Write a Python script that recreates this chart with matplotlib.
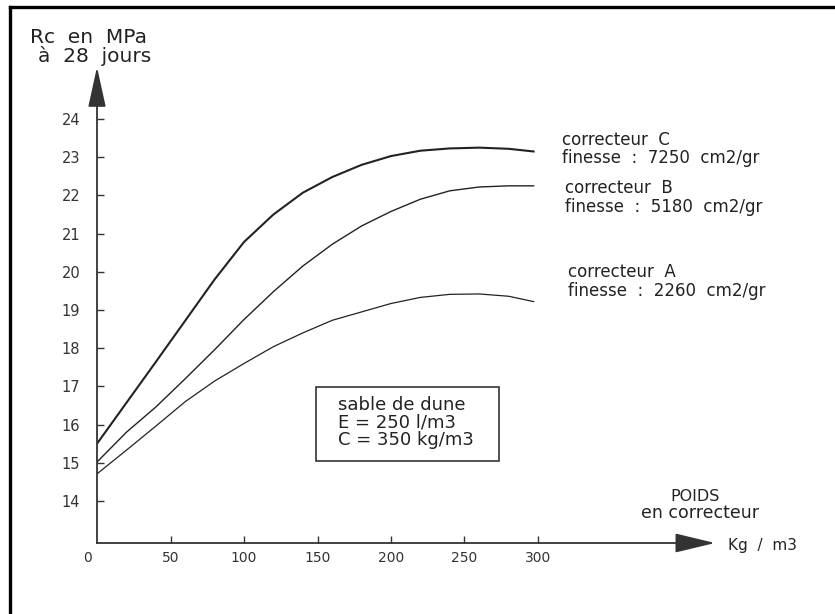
"""Rc a 28 jours vs poids en correcteur
"""
import matplotlib.pyplot as plt
from matplotlib.lines import Line2D
from matplotlib.patches import Rectangle

W, H = 835, 614

# poids en correcteur (kg/m3)
poids = [0, 20, 40, 60, 80, 100, 120, 140, 160, 180, 200, 220, 240, 260, 280, 297]
# Rc en MPa a 28 jours
rc_a = [14.71, 15.33, 15.96, 16.6, 17.14, 17.6, 18.04, 18.4, 18.73, 18.95,
        19.17, 19.33, 19.41, 19.42, 19.36, 19.22]
rc_b = [15.02, 15.8, 16.46, 17.2, 17.96, 18.75, 19.48, 20.15, 20.72, 21.2,
        21.58, 21.9, 22.12, 22.22, 22.25, 22.25]
rc_c = [15.5, 16.57, 17.64, 18.72, 19.8, 20.78, 21.5, 22.07, 22.48, 22.8,
        23.03, 23.17, 23.23, 23.25, 23.22, 23.15]

x_ticks = [50, 100, 150, 200, 250, 300]
y_ticks = list(range(14, 25))

labels = {
    'C': "correcteur  C\nfinesse  :  7250  cm2/gr",
    'B': "correcteur  B\nfinesse  :  5180  cm2/gr",
    'A': "correcteur  A\nfinesse  :  2260  cm2/gr",
}
note = "sable de dune\nE = 250 l/m3\nC = 350 kg/m3"

ink = '#222222'
plt.rcParams['font.family'] = 'DejaVu Sans'


def fx(px):
    return px / W


def fy(py):
    return 1 - py / H


fig = plt.figure(figsize=(W / 100, H / 100), dpi=100)
fig.patch.set_facecolor('white')

# scan frame (top and left edges only)
fig.add_artist(Line2D([fx(10), 1], [fy(7), fy(7)], color='black', lw=2.4,
                      transform=fig.transFigure))
fig.add_artist(Line2D([fx(10), fx(10)], [fy(7), 0], color='black', lw=2.4,
                      transform=fig.transFigure))

ax = fig.add_axes([fx(97), fy(543), (680 - 97) / W, (543 - 103) / H])
ax.set_xlim(0, (680 - 97) / 1.47)
ax.set_ylim(24 - (543 - 119) / 38.2, 24 + 16 / 38.2)
ax.patch.set_alpha(0)

ax.plot(poids, rc_c, color=ink, lw=1.5)
ax.plot(poids, rc_b, color=ink, lw=1.0)
ax.plot(poids, rc_a, color=ink, lw=0.9)

for s in ['top', 'right']:
    ax.spines[s].set_visible(False)
for s in ['left', 'bottom']:
    ax.spines[s].set_color('#333333')
    ax.spines[s].set_linewidth(1.3)

ax.set_xticks(x_ticks)
ax.set_yticks(y_ticks)
ax.tick_params(direction='in', length=5, width=1, color='#333333',
               labelcolor='#333333')
ax.tick_params(axis='y', pad=12, labelsize=10.5)
ax.tick_params(axis='x', pad=6, labelsize=10)

# arrow heads on both axes
ax.annotate('', xy=(0, 1 + 36 / 440), xytext=(0, 1), xycoords='axes fraction',
            arrowprops=dict(arrowstyle='-|>,head_length=2.5,head_width=0.55',
                            color='#333333', lw=1.3, shrinkA=0, shrinkB=0),
            annotation_clip=False)
ax.annotate('', xy=(1 + 35 / 583, 0), xytext=(1, 0), xycoords='axes fraction',
            arrowprops=dict(arrowstyle='-|>,head_length=2.5,head_width=0.6',
                            color='#333333', lw=1.3, shrinkA=0, shrinkB=0),
            annotation_clip=False)
ax.annotate('0', xy=(0, 0), xycoords='axes fraction', xytext=(-6.5, -6),
            textcoords='offset points', ha='center', va='top', fontsize=10,
            color='#333333')

# axis titles
fig.text(fx(30), fy(43), "Rc  en  MPa", fontsize=14.5, color=ink,
         va='baseline')
fig.text(fx(38), fy(62), "à  28  jours", fontsize=14.5, color=ink,
         va='baseline')
fig.text(fx(695), fy(501), "POIDS", fontsize=11.5, color=ink, ha='center',
         va='baseline')
fig.text(fx(641), fy(518), "en correcteur", fontsize=12.5, color=ink,
         va='baseline')
fig.text(fx(728), fy(550), "Kg  /  m3", fontsize=11, color=ink, va='baseline')

# curve labels (baseline of the last line)
fig.text(fx(562), fy(163), labels['C'], fontsize=12, color=ink,
         va='baseline', linespacing=1.0)
fig.text(fx(565), fy(212), labels['B'], fontsize=12, color=ink,
         va='baseline', linespacing=1.1)
fig.text(fx(568), fy(296), labels['A'], fontsize=12, color=ink,
         va='baseline', linespacing=1.1)

# note box
fig.add_artist(Rectangle((fx(316), fy(461)), 183 / W, 74 / H, fill=False,
                         ec='#333333', lw=1.2, transform=fig.transFigure))
fig.text(fx(338), fy(445), note, fontsize=13, color=ink, va='baseline',
         linespacing=0.95)

fig.savefig('out.png', dpi=100)
